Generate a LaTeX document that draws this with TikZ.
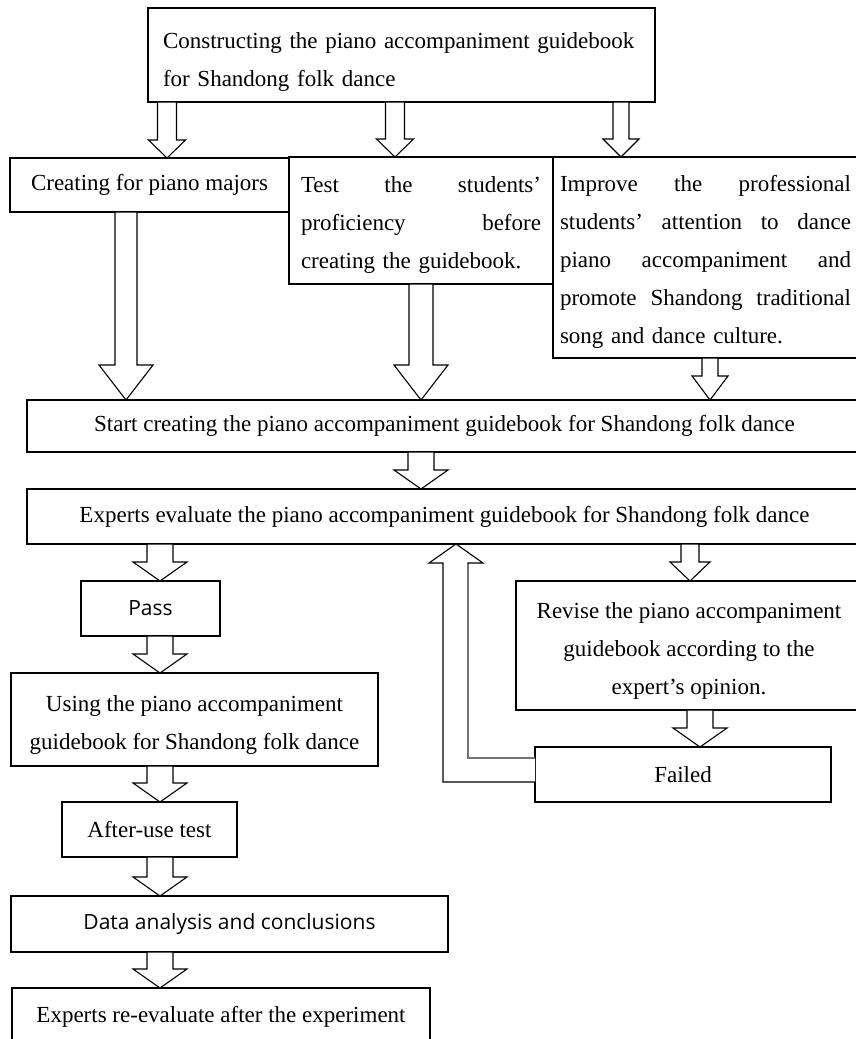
\documentclass[tikz,border=0pt]{standalone}
\usepackage{fontspec}
\setmainfont{Liberation Serif}
\newfontfamily\sansfont{Open Sans}
\usetikzlibrary{calc}
\tikzset{
  box/.style={draw, line width=1.3pt, fill=white, inner sep=0pt, outer sep=0pt,
    align=center, font=\fontsize{23}{38}\selectfont},
  sansbox/.style={box, font=\sansfont\fontsize{21}{30}\selectfont},
  blk/.style={draw, line width=1.1pt, fill=white, line join=miter},
  loopinner/.style={draw=black!55, line width=1.8pt},
}
\newcommand\firststrut[1]{\rule{0pt}{#1}}
\newcommand\jline[2]{\leavevmode\hbox to #1{#2}}
% x centre, source node, target node, half shaft, half head, head length
\newcommand\blockarrow[6]{%
  \draw[blk] let \p1=(#2.south), \p2=(#3.north) in
    ({#1pt-#4pt},\y1) -- ({#1pt-#4pt},{\y2+#6pt}) -- ({#1pt-#5pt},{\y2+#6pt})
    -- ({#1pt},\y2) -- ({#1pt+#5pt},{\y2+#6pt}) -- ({#1pt+#4pt},{\y2+#6pt})
    -- ({#1pt+#4pt},\y1) -- cycle;}
\begin{document}
\begin{tikzpicture}[x=1pt,y=-1pt]
\clip (0,0) rectangle (856,1039);
\fill[white] (0,0) rectangle (856,1039);

% top
\node[box, anchor=north west, align=left, text width=477pt, inner xsep=15pt,
  minimum height=94pt] (top) at (148,8)
  {\firststrut{30pt}Constructing the piano accompaniment guidebook\\for Shandong folk dance};

% row 2
\node[box, anchor=north west, minimum width=279pt, minimum height=54pt] (majors) at (10,158)
  {Creating for piano majors};
\node[box, anchor=north west, align=left, text width=240pt, inner xsep=12pt,
  minimum height=127pt] (test) at (289,157)
  {\jline{240pt}{\firststrut{24pt}Test\hfill the\hfill students’}\\
   \jline{240pt}{proficiency\hfill before}\\
   creating the guidebook.};
\node[box, anchor=north west, align=left, text width=291pt, inner xsep=7pt,
  minimum height=201pt] (improve) at (553,157)
  {\jline{291pt}{\firststrut{24pt}Improve\hfill the\hfill professional}\\
   \jline{291pt}{students’\hfill attention\hfill to\hfill dance}\\
   \jline{291pt}{piano\hfill accompaniment\hfill and}\\
   \jline{291pt}{promote\hfill Shandong\hfill traditional}\\
   song and dance culture.};

% main column
\node[box, anchor=north west, minimum width=835pt, minimum height=52pt] (start) at (27,400)
  {Start creating the piano accompaniment guidebook for Shandong folk dance};
\node[box, anchor=north west, minimum width=835pt, minimum height=55pt] (exp) at (27,489)
  {Experts evaluate the piano accompaniment guidebook for Shandong folk dance};

% left branch
\node[sansbox, anchor=north west, minimum width=139pt, minimum height=55pt] (pass) at (81,581)
  {Pass};
\node[box, anchor=north west, minimum width=367pt, minimum height=93pt] (using) at (11,673)
  {\firststrut{26pt}Using the piano accompaniment\\guidebook for Shandong folk dance};
\node[box, anchor=north west, minimum width=175pt, minimum height=55pt] (after) at (62,802)
  {After-use test};
\node[sansbox, anchor=north west, minimum width=437pt, minimum height=56pt] (data) at (11,896)
  {Data analysis and conclusions};
\node[box, anchor=north west, minimum width=418pt, minimum height=57pt] (reeval) at (12,988)
  {Experts re-evaluate after the experiment};

% right branch
\node[box, anchor=north west, minimum width=346pt, minimum height=129pt] (revise) at (516,581)
  {\firststrut{26pt}Revise the piano accompaniment\\guidebook according to the\\expert’s opinion.};
\node[box, anchor=north west, minimum width=296pt, minimum height=55pt] (failed) at (535,747)
  {Failed};

% arrows
\blockarrow{167}{top}{majors}{9.5}{18.5}{18}
\blockarrow{395}{top}{test}{9.5}{18.5}{18}
\blockarrow{621}{top}{improve}{8}{18}{18}
\blockarrow{126}{majors}{start}{11}{27}{35}
\blockarrow{421}{test}{start}{12}{27}{35}
\blockarrow{710}{improve}{start}{8}{18}{24}
\blockarrow{421}{start}{exp}{13}{27}{19}
\blockarrow{160}{exp}{pass}{13}{27}{19}
\blockarrow{690}{exp}{revise}{9}{20}{19}
\blockarrow{160}{pass}{using}{13}{27}{19}
\blockarrow{700}{revise}{failed}{13}{27}{19}
\blockarrow{160}{using}{after}{13}{27}{19}
\blockarrow{160}{after}{data}{13}{27}{19}
\blockarrow{160}{data}{reeval}{13}{27}{19}

% feedback loop from Failed back to the evaluation
\draw[blk] let \p1=(failed.west), \p2=(exp.south) in
  (\x1,{-782pt}) -- ({443pt},{-782pt}) -- ({443pt},{-563pt}) -- ({429pt},{-563pt})
  -- ({456pt},\y2) -- ({483pt},{-563pt}) -- ({468pt},{-563pt}) -- ({468pt},{-758pt})
  -- (\x1,{-758pt});
\draw[loopinner] let \p1=(failed.west) in
  (\x1,{-758pt}) -- ({468pt},{-758pt}) -- ({468pt},{-564pt});
\end{tikzpicture}
\end{document}
